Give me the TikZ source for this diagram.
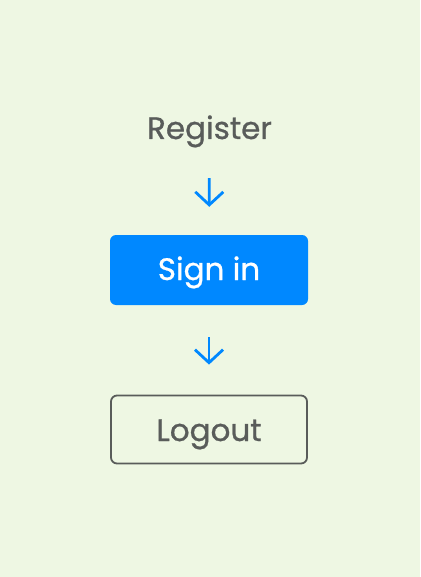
\documentclass[tikz,border=0pt]{standalone}
\usepackage{fontspec}
\newfontfamily\stepfont{Poppins}[FakeBold=0.8]
\usetikzlibrary{arrows.meta}

\definecolor{bgcol}{HTML}{EEF7E3}
\definecolor{flowblue}{HTML}{0088FF}
\definecolor{textgray}{HTML}{595C5A}

\tikzset{
  steptext/.style={text=textgray, inner sep=0, font=\stepfont\fontsize{31}{36}\selectfont},
  stepbox/.style={steptext, rounded corners=6pt, minimum width=198pt, minimum height=70pt},
  flowarrow/.style={->, flowblue, line width=2.8pt}
}

\begin{document}
\begin{tikzpicture}[x=1pt, y=-1pt, >={Straight Barb[width=28pt,length=13pt]}]
        % background, fixes the margins
        \fill[bgcol] (0,0) rectangle (420,577);
        \useasboundingbox (0,0) rectangle (420,577);
        % steps
        \node[steptext, anchor=base, text height=23pt, text depth=8pt] (reg) at (209.5,139) {Register};
        \node[stepbox, fill=flowblue, text=white, text height=22pt, text depth=2pt] (signin) at (209,270) {Sign in};
        \node[stepbox, draw=textgray, line width=1.8pt, minimum width=196pt, minimum height=68pt, text height=25pt, text depth=2pt] (logout) at (209,429.5) {Logout};
        % connect steps
        \draw[flowarrow, shorten <=31pt, shorten >=28pt] (reg) -- (signin);
        \draw[flowarrow, shorten <=32pt, shorten >=30pt] (signin) -- (logout);
    \end{tikzpicture}
\end{document}
